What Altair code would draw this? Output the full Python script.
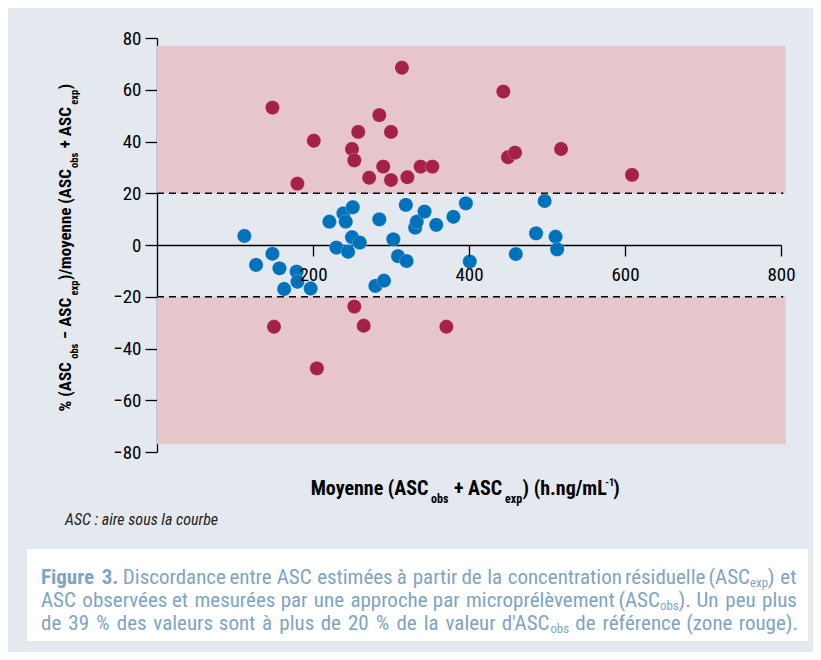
import altair as alt
import pandas as pd

FONT = "Roboto Condensed"
BG = "#e4e9f0"
PINK = "#e6c6ca"
BLUE = "#0072bc"
RED = "#a5204b"
CAP = "#7ea4c4"

# ---------------- data ----------------
blue_x = [112, 127, 148, 157, 163, 179, 180, 197, 221, 239, 242, 251, 230, 245, 250,
          260, 285, 303, 309, 320, 319, 331, 333, 343, 358, 380, 396, 401, 280, 291,
          460, 486, 497, 511, 513]
blue_y = [3.5, -7.7, -3.4, -9.0, -17.0, -10.3, -14.2, -16.8, 9.0, 12.2, 9.0, 14.6, -1.0, -2.6, 3.0,
          0.9, 9.9, 2.2, -4.3, -6.2, 15.5, 6.7, 9.0, 12.9, 7.8, 10.9, 16.1, -6.4, -15.8, -13.8,
          -3.5, 4.5, 17.0, 3.2, -1.7]
red_x = [148, 201, 180, 314, 285, 258, 300, 250, 253, 272, 290, 300, 321, 338, 353,
         444, 450, 459, 518, 609, 150, 253, 265, 205, 371]
red_y = [53.1, 40.3, 23.7, 68.5, 50.2, 43.7, 43.7, 37.1, 32.7, 26.0, 30.3, 25.1, 26.2, 30.3, 30.3,
         59.3, 33.9, 35.7, 37.1, 27.1, -31.6, -23.8, -31.2, -47.7, -31.6]

zone_lo = [20, -77]
zone_hi = [77, -20]
zone_x0 = [0, 0]
zone_x1 = [806, 806]
limit_y = [20, -20]
limit_x0 = [0, 0]
limit_x1 = [803, 803]
x_ticks = [200, 400, 600, 800]
y_ticks = [-80, -60, -40, -20, 0, 20, 40, 60, 80]

x_title = [("Moyenne (ASC", "m"), ("obs", "sub"), (" + ASC", "m"), ("exp", "sub"),
           (") (h.ng/mL", "m"), ("-1", "sup"), (")", "m")]
y_title = [("% (ASC", "m"), ("obs", "sub"), (" \u2212 ASC", "m"), ("exp", "sub"),
           (")/moyenne (ASC", "m"), ("obs", "sub"), (" + ASC", "m"), ("exp", "sub"), (")", "m")]
note = "ASC : aire sous la courbe"


def W(s):
    return [[(w, "r")] for w in s.split(" ")]


def B(s):
    return [[(w, "b")] for w in s.split(" ")]


caption_lines = [
    B("Figure 3.") + W("Discordance entre ASC estimées à partir de la concentration résiduelle")
    + [[("(ASC", "r"), ("exp", "s"), (")", "r")]] + W("et"),
    W("ASC observées et mesurées par une approche par microprélèvement")
    + [[("(ASC", "r"), ("obs", "s"), (").", "r")]] + W("Un peu plus"),
    W("de 39 % des valeurs sont à plus de 20 % de la valeur")
    + [[("d'ASC", "r"), ("obs", "s")]] + W("de référence (zone rouge)."),
]

# ---------------- approximate glyph widths ----------------
# bold: Arial-bold-like metrics (/1000) scaled to the condensed face
BOLD = {}
for chars, w in [(" !,./:;Iijl", 278), ("ft()-", 333), ("r", 389), ("'", 238),
                 ("acesvxyzk0123456789éè", 556), ("bdghnopquLFTZ", 611), ("+\u2212", 584),
                 ("EPSVXY", 667), ("ABCDHKNRU", 722), ("wGOQ", 778), ("M", 833),
                 ("m%", 889), ("W", 944)]:
    for c in chars:
        BOLD[c] = w
# regular: Roboto-like metrics (/2048) scaled to the condensed face
REG = {" ": 507, "!": 527, "%": 1465, "'": 349, "(": 700, ")": 712, "+": 1134, ",": 402,
       "-": 553, ".": 539, "/": 823, ":": 496, "A": 1336, "B": 1275, "C": 1333, "D": 1343,
       "E": 1164, "F": 1132, "G": 1395, "H": 1460, "I": 557, "L": 1102, "M": 1788, "N": 1460,
       "O": 1408, "P": 1292, "R": 1261, "S": 1217, "T": 1222, "U": 1328, "a": 1114, "b": 1148,
       "c": 1071, "d": 1153, "e": 1082, "f": 710, "g": 1148, "h": 1128, "i": 497, "j": 489,
       "k": 1037, "l": 497, "m": 1795, "n": 1130, "o": 1168, "p": 1148, "q": 1163, "r": 693,
       "s": 1056, "t": 669, "u": 1129, "v": 992, "w": 1538, "x": 1015, "y": 969, "z": 1015,
       "é": 1082, "è": 1082, "à": 1114}
for d in "0123456789":
    REG[d] = 1150


def tw(text, size, bold):
    if bold:
        return sum(BOLD.get(c, 556) for c in text) * size * 0.85 / 1000.0
    return sum(REG.get(c, 1100) for c in text) * size * 0.86 / 2048.0


# plot origin in page pixels is (157, 38); annotation positions below are plot pixels
recs_bold, recs_rot, recs_cap_r, recs_cap_b, recs_note = [], [], [], [], []

# x-axis title
XS = {"m": (20, 0.0), "sub": (12, 7.5), "sup": (10.5, -9.5)}
tot = sum(tw(t, XS[k][0], True) for t, k in x_title)
cx = 307 - tot / 2
for t, k in x_title:
    s, dy = XS[k]
    lead = len(t) - len(t.lstrip(" "))
    cx += tw(" " * lead, s, True)
    recs_bold.append(dict(text=t.strip(" "), x=cx, y=457 + dy, size=s))
    cx += tw(t.lstrip(" "), s, True) + (0.5 if k == "m" else 0.0)

# y-axis title (rotated)
YS = {"m": (17, 0.0), "sub": (10.5, 6.5)}
tot = sum(tw(t, YS[k][0], True) for t, k in y_title)
cy = 211 + tot / 2
for t, k in y_title:
    s, dx = YS[k]
    lead = len(t) - len(t.lstrip(" "))
    cy -= tw(" " * lead, s, True)
    recs_rot.append(dict(text=t.strip(" "), x=-86 + dx, y=cy, size=s))
    cy -= tw(t.lstrip(" "), s, True) + (0.5 if k == "m" else 0.0)

# caption (justified lines)
cap_left, cap_right = -116, 640
cap_base = [545.5, 568.5, 591.5]
span = cap_right - cap_left


def kind_size(k, s):
    return {"r": (s, 0.0, False), "b": (s, 0.0, True), "s": (s * 0.61, 3.5, False)}[k]


def piece_adv(t, k, s):
    sz, _, bold = kind_size(k, s)
    return tw(t, sz, bold) + (1.2 if k != "s" else 0.3)


def line_natural(line, s):
    return [sum(piece_adv(t, k, s) for t, k in word) for word in line]


cap_size = 21.0
for line in caption_lines:
    while (span - sum(line_natural(line, cap_size))) / (len(line) - 1) < 4.8 and cap_size > 17:
        cap_size -= 0.25

for line, by in zip(caption_lines, cap_base):
    widths = line_natural(line, cap_size)
    gap = (span - sum(widths)) / (len(line) - 1)
    cx = cap_left
    for word, wd in zip(line, widths):
        px = cx
        for t, k in word:
            s, dy, bold = kind_size(k, cap_size)
            (recs_cap_b if bold else recs_cap_r).append(dict(text=t, x=px, y=by + dy, size=s))
            px += piece_adv(t, k, cap_size)
        cx += wd + gap

recs_note.append(dict(text=note, x=-92, y=487, size=16))

# ---------------- chart ----------------
xs = alt.Scale(domain=[0, 800], nice=False, zero=False)
ys = alt.Scale(domain=[-80, 80], nice=False, zero=False)

x_dom_axis = alt.Axis(orient="bottom", domain=True, domainColor="black", domainWidth=1.3,
                      ticks=False, labels=False, grid=False, title=None, offset=-207, zindex=0)
x_lab_axis = alt.Axis(orient="bottom", values=x_ticks, domain=False, ticks=True, tickSize=11,
                      tickColor="black", tickWidth=1.3, labels=True, labelFont=FONT,
                      labelFontSize=19, labelColor="black", labelPadding=9, labelFlush=False,
                      labelOverlap=False, grid=False, title=None, offset=-207, zindex=1)
y_axis = alt.Axis(orient="left", values=y_ticks, domain=True, domainColor="black", domainWidth=1.3,
                  ticks=True, tickSize=12, tickColor="black", tickWidth=1.3, labelFont=FONT,
                  labelFontSize=19, labelColor="black", labelPadding=4, labelFlush=False,
                  grid=False, title=None)

zones = alt.Chart(pd.DataFrame({"x0": zone_x0, "x1": zone_x1, "lo": zone_lo, "hi": zone_hi})).mark_rect(
    color=PINK).encode(
    x=alt.X("x0:Q", scale=xs, axis=x_dom_axis), x2="x1:Q",
    y=alt.Y("lo:Q", scale=ys, axis=y_axis), y2="hi:Q")

limits = alt.Chart(pd.DataFrame({"y": limit_y, "x0": limit_x0, "x1": limit_x1})).mark_rule(
    color="black", strokeWidth=1.4, strokeDash=[7, 5]).encode(
    x=alt.X("x0:Q", scale=xs, axis=None), x2="x1:Q", y=alt.Y("y:Q", scale=ys, axis=y_axis))

pts = pd.DataFrame({
    "x": blue_x + red_x,
    "y": blue_y + red_y,
    "g": ["in"] * len(blue_x) + ["out"] * len(red_x),
})
points = alt.Chart(pts).mark_circle(size=205, opacity=1, stroke="white", strokeWidth=0.5,
                                    strokeOpacity=0.45).encode(
    x=alt.X("x:Q", scale=xs, axis=x_lab_axis),
    y=alt.Y("y:Q", scale=ys, axis=y_axis),
    color=alt.Color("g:N", scale=alt.Scale(domain=["in", "out"], range=[BLUE, RED]), legend=None))

capbox = alt.Chart(pd.DataFrame({"a": [0]})).mark_rect(color="white").encode(
    x=alt.value(-130), x2=alt.value(651), y=alt.value(511), y2=alt.value(603))


def text_layer(recs, color, weight="normal", style="normal", angle=0):
    return alt.Chart(pd.DataFrame(recs)).mark_text(
        align="left", baseline="alphabetic", font=FONT, fontWeight=weight, fontStyle=style,
        angle=angle, color=color).encode(
        x=alt.X("x:Q", scale=None, axis=None),
        y=alt.Y("y:Q", scale=None, axis=None),
        text="text:N",
        size=alt.Size("size:Q", scale=None, legend=None))


layers = [zones, limits, points, capbox,
          text_layer(recs_bold, "black", weight="bold"),
          text_layer(recs_rot, "black", weight="bold", angle=270),
          text_layer(recs_cap_r, CAP),
          text_layer(recs_cap_b, CAP, weight="bold"),
          text_layer(recs_note, "#222222", style="italic")]

chart = alt.layer(*layers).resolve_axis(x="independent").properties(
    width=624, height=414,
    autosize=alt.AutoSizeParams(type="none"),
    padding={"left": 149, "top": 30, "right": 32, "bottom": 200},
    background=BG,
).configure_view(stroke=None)

chart.save("out.html", embed_options={"renderer": "svg", "actions": False})
